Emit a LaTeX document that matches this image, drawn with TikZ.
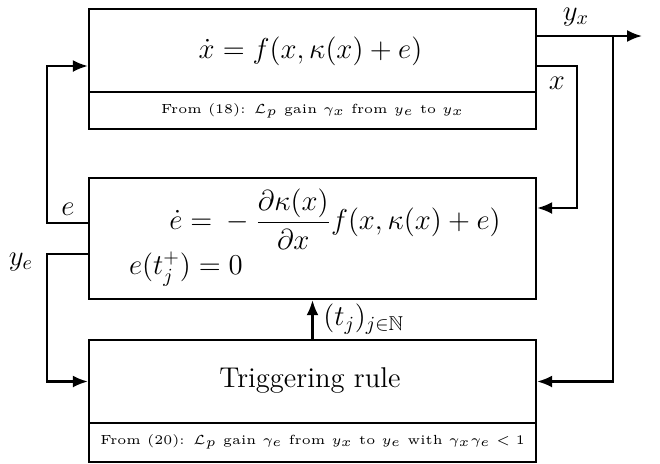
\documentclass[tikz,border=0pt]{standalone}
\usepackage{amsmath,amssymb}
\usetikzlibrary{arrows.meta,calc}
\begin{document}
\begin{tikzpicture}[x=0.5pt,y=-0.5pt,
  box/.style={draw,line width=1.15pt,rectangle,inner sep=0pt,minimum width=223.5pt},
  arr/.style={line width=1.1pt,-{Latex[length=7.5pt,width=6pt]}},
  main/.style={font=\fontsize{14.3}{17}\selectfont,inner sep=0pt},
  sub/.style={font=\fontsize{5}{6}\selectfont,inner sep=0pt,scale=1.32}]
\useasboundingbox (0,0) rectangle (660,463);
% boxes
\node[box,minimum height=41.5pt] (plant) at (312.5,50.5) {};
\node[box,minimum height=18.5pt] (plantsub) at (312.5,110.5) {};
\node[box,minimum height=60.5pt] (err) at (312.5,238.5) {};
\node[box,minimum height=41.5pt] (trig) at (312.5,381.5) {};
\node[box,minimum height=19.5pt] (trigsub) at (312.5,442.5) {};
% texts
\node[main] (plantEq) at (310.5,51) {$\dot{x} = f(x,\kappa(x)+e)$};
\node[sub] (plantNote) at (312.5,111) {From (18): $\mathcal{L}_p$ gain $\gamma_x$ from $y_e$ to $y_x$};
\node[main] (errEq) at (335,219) {$\dot{e} = {}-\dfrac{\partial\kappa(x)}{\partial x} f(x,\kappa(x)+e)$};
\node[main] (errInit) at (186,269) {$e(t_j^+) = 0$};
\node[main] (trigText) at (310,380) {Triggering rule};
\node[sub] (trigNote) at (312.5,442) {From (20): $\mathcal{L}_p$ gain $\gamma_e$ from $y_x$ to $y_e$ with $\gamma_x\gamma_e < 1$};
% connectors
\coordinate (yxend) at (642,36);
\coordinate (tap) at (613,36);
\draw[arr] (plant.east |- yxend) -- (yxend);
\draw[arr] (tap) |- (trig.east);
\coordinate (xc) at (577,66);
\coordinate (xin) at (577,208);
\draw[arr] (plant.east |- xc) -- (xc) -- (xin) -- (err.east |- xin);
\coordinate (ec) at (47,223);
\coordinate (eup) at (47,66);
\draw[arr] (err.west |- ec) -- (ec) -- (eup) -- (plant.west |- eup);
\coordinate (yec) at (47,254);
\draw[arr] (err.west |- yec) -- (yec) |- (trig.west);
\draw[arr] (trig.north) -- (err.south);
% labels
\node[main] (lyx) at (576,17) {$y_x$};
\node[main] (lx) at (557,83) {$x$};
\node[main] (le) at (68,209) {$e$};
\node[main] (lye) at (21,262) {$y_e$};
\node[main,anchor=west] (ltj) at (323,319) {$(t_j)_{j\in\mathbb{N}}$};
\end{tikzpicture}
\end{document}
